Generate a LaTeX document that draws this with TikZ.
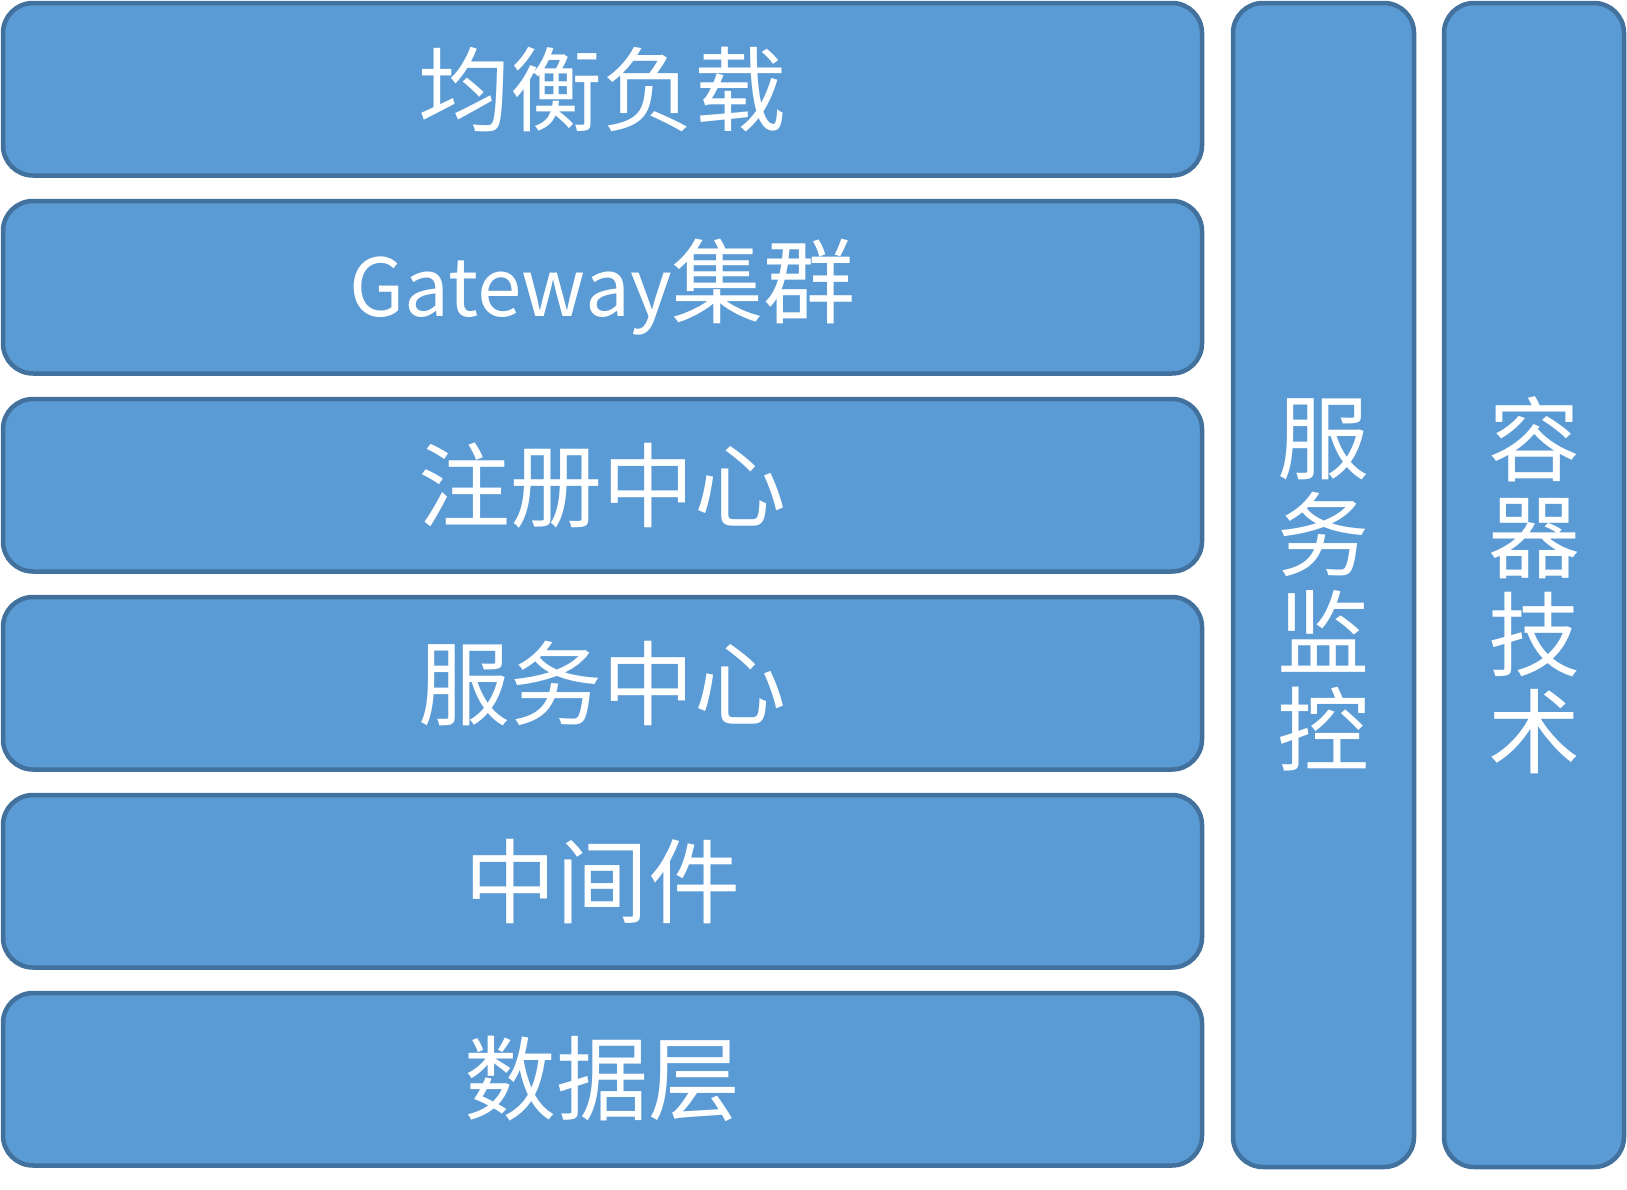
\documentclass[tikz,border=0pt]{standalone}
\usepackage{fontspec}
\newfontfamily\cjk{Noto Sans CJK SC}
\definecolor{boxfill}{HTML}{5B9BD5}
\definecolor{boxline}{HTML}{41719C}
\begin{document}
\begin{tikzpicture}[x=1pt,y=-1pt,
  layer/.style={draw=boxline,fill=boxfill,line width=4.5pt,rounded corners=30pt,
    inner sep=0pt,minimum width=1199pt,minimum height=172.5pt,text=white,
    font=\cjk\fontsize{92}{97.5}\selectfont},
  pillar/.style={draw=boxline,fill=boxfill,line width=4.5pt,rounded corners=30pt,
    inner sep=0pt,minimum width=181pt,minimum height=1164pt,text=white,align=center,
    font=\cjk\fontsize{92}{97.5}\selectfont}]
\useasboundingbox (0,0) rectangle (1627,1189);
\node[layer] (b1) at (602.5, 89.25) {均衡负载};
\node[layer] (b2) at (602.5,287.25) {{\fontsize{80}{97.5}\selectfont Gateway}集群};
\node[layer] (b3) at (602.5,485.25) {注册中心};
\node[layer] (b4) at (602.5,683.25) {服务中心};
\node[layer] (b5) at (602.5,881.25) {中间件};
\node[layer] (b6) at (602.5,1079.25) {数据层};
\node[pillar] (c1) at (1323.5,585) {服\\务\\监\\控};
\node[pillar,minimum width=180pt] (c2) at (1534,585) {容\\器\\技\\术};
\end{tikzpicture}
\end{document}
